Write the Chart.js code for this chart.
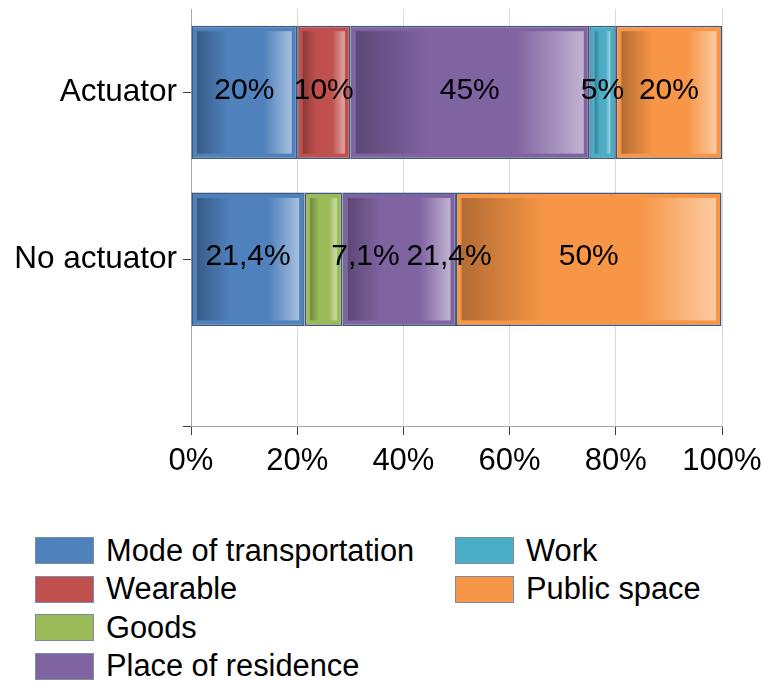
<!DOCTYPE html>
<html>
<head>
<meta charset="utf-8">
<script src="https://cdn.jsdelivr.net/npm/chart.js@4.4.0/dist/chart.umd.min.js"></script>
<style>
  body { margin: 0; background: #fff; font-family: 'Liberation Sans', Arial, sans-serif; }
  #wrap { position: relative; width: 762px; height: 682px; }
  #legend {
    position: absolute; left: 35px; top: 537px;
    display: grid; grid-auto-flow: column;
    grid-template-rows: repeat(4, 38.5px);
    grid-template-columns: 420px auto;
  }
  .item { display: flex; align-items: center; height: 27px; font-size: 30.8px; color: #000; white-space: nowrap; }
  .swatch { width: 57px; height: 25px; border: 1px solid #7d8ba3; margin-right: 12px; }
</style>
</head>
<body>
<div id="wrap">
  <canvas id="chart" width="762" height="500"></canvas>
  <div id="legend"></div>
</div>
<script>
    const categories = ['Actuator', 'No actuator', ''];
    const seriesNames = ['Mode of transportation', 'Wearable', 'Goods', 'Place of residence', 'Work', 'Public space'];
    const transport = [20, 21.4];
    const wearable = [10, null];
    const goods = [null, 7.1];
    const residence = [45, 21.4];
    const work = [5, null];
    const publicSpace = [20, 50];
    const xTicks = [0, 20, 40, 60, 80, 100];

    const seriesValues = [transport, wearable, goods, residence, work, publicSpace];
    const palette = ['#4f81bd', '#c0504d', '#9bbb59', '#8064a2', '#4bacc6', '#f79646'];
    const FONT = "'Liberation Sans', Arial, sans-serif";

    // blend a hex colour towards another one
    function mix(hex, target, t) {
        const a = parseInt(hex.slice(1), 16), b = parseInt(target.slice(1), 16);
        const ch = s => Math.round(((a >> s) & 255) * (1 - t) + ((b >> s) & 255) * t);
        return `rgb(${ch(16)}, ${ch(8)}, ${ch(0)})`;
    }

    // inner shaded panel on every segment, then the percentage text
    const barFinish = {
        id: 'barFinish',
        afterDatasetsDraw(chart, args, opts) {
            const ctx = chart.ctx;
            ctx.save();
            chart.data.datasets.forEach((ds, di) => {
                chart.getDatasetMeta(di).data.forEach((el, i) => {
                    if (ds.data[i].x == null) return;
                    const {x, y, base, height} = el.getProps(['x', 'y', 'base', 'height'], true);
                    const left = Math.min(x, base) + opts.inset;
                    const right = Math.max(x, base) - opts.inset;
                    const top = y - height / 2 + opts.inset;
                    const bottom = y + height / 2 - opts.inset;
                    if (right <= left) return;
                    const c = ds.backgroundColor;
                    const g = ctx.createLinearGradient(left, 0, right, 0);
                    g.addColorStop(0, mix(c, '#000000', 0.28));
                    g.addColorStop(0.33, c);
                    g.addColorStop(0.7, c);
                    g.addColorStop(1, mix(c, '#ffffff', 0.5));
                    ctx.fillStyle = g;
                    ctx.fillRect(left, top, right - left, bottom - top);
                });
            });

            ctx.font = `30px ${FONT}`;
            ctx.fillStyle = '#000';
            ctx.textAlign = 'center';
            ctx.textBaseline = 'middle';
            chart.data.datasets.forEach((ds, di) => {
                chart.getDatasetMeta(di).data.forEach((el, i) => {
                    const v = ds.data[i].x;
                    if (v == null) return;
                    const {x, y, base} = el.getProps(['x', 'y', 'base'], true);
                    const shift = opts.nudge[di + ':' + i] || 0;
                    ctx.fillText(String(v).replace('.', ',') + '%', (x + base) / 2 + shift, y + opts.dy);
                });
            });
            ctx.restore();
        }
    };

    const chart = new Chart(document.getElementById('chart'), {
        type: 'bar',
        data: {
            datasets: seriesNames.map((name, k) => ({
                label: name,
                data: seriesValues[k].map((v, i) => ({ x: v, y: i })),
                backgroundColor: palette[k],
                borderColor: '#41587c',
                borderWidth: 1.5,
                borderSkipped: false,
                barPercentage: 1,
                categoryPercentage: 0.8
            }))
        },
        options: {
            indexAxis: 'y',
            responsive: false,
            animation: false,
            layout: { padding: { top: 9, right: 40, left: 0, bottom: 0 } },
            plugins: {
                legend: { display: false },
                tooltip: { enabled: false },
                barFinish: { inset: 5.5, dy: -2, nudge: { '2:1': 42, '3:1': 50 } }
            },
            scales: {
                x: {
                    stacked: true,
                    min: 0,
                    max: 100,
                    afterBuildTicks: axis => { axis.ticks = xTicks.map(v => ({ value: v })); },
                    afterFit: s => { s.height = 74; s.paddingLeft = 0; s.paddingRight = 0; },
                    ticks: {
                        callback: v => v + '%',
                        font: { family: FONT, size: 31 },
                        color: '#000',
                        padding: 8
                    },
                    grid: { color: '#d9d9d9', tickColor: '#404040', tickLength: 9 },
                    border: { color: '#a6a6a6' }
                },
                y: {
                    type: 'linear',
                    stacked: true,
                    reverse: true,
                    offset: false,
                    min: -0.5,
                    max: 2,
                    afterBuildTicks: axis => { axis.ticks = categories.map((c, i) => ({ value: i })); },
                    afterFit: s => { s.width = 191; s.paddingTop = 0; s.paddingBottom = 0; },
                    ticks: {
                        callback: v => categories[v],
                        font: { family: FONT, size: 31.5 },
                        color: '#000',
                        padding: 6
                    },
                    grid: { offset: false, drawOnChartArea: false, tickColor: '#404040', tickLength: 8 },
                    border: { color: '#a6a6a6' }
                }
            }
        },
        plugins: [barFinish]
    });

    // two-column legend, filled top to bottom
    const legendBox = document.getElementById('legend');
    chart.data.datasets.forEach(ds => {
        const item = document.createElement('div');
        item.className = 'item';
        const sw = document.createElement('span');
        sw.className = 'swatch';
        sw.style.background = ds.backgroundColor;
        item.appendChild(sw);
        item.appendChild(document.createTextNode(ds.label));
        legendBox.appendChild(item);
    });
</script>
</body>
</html>
